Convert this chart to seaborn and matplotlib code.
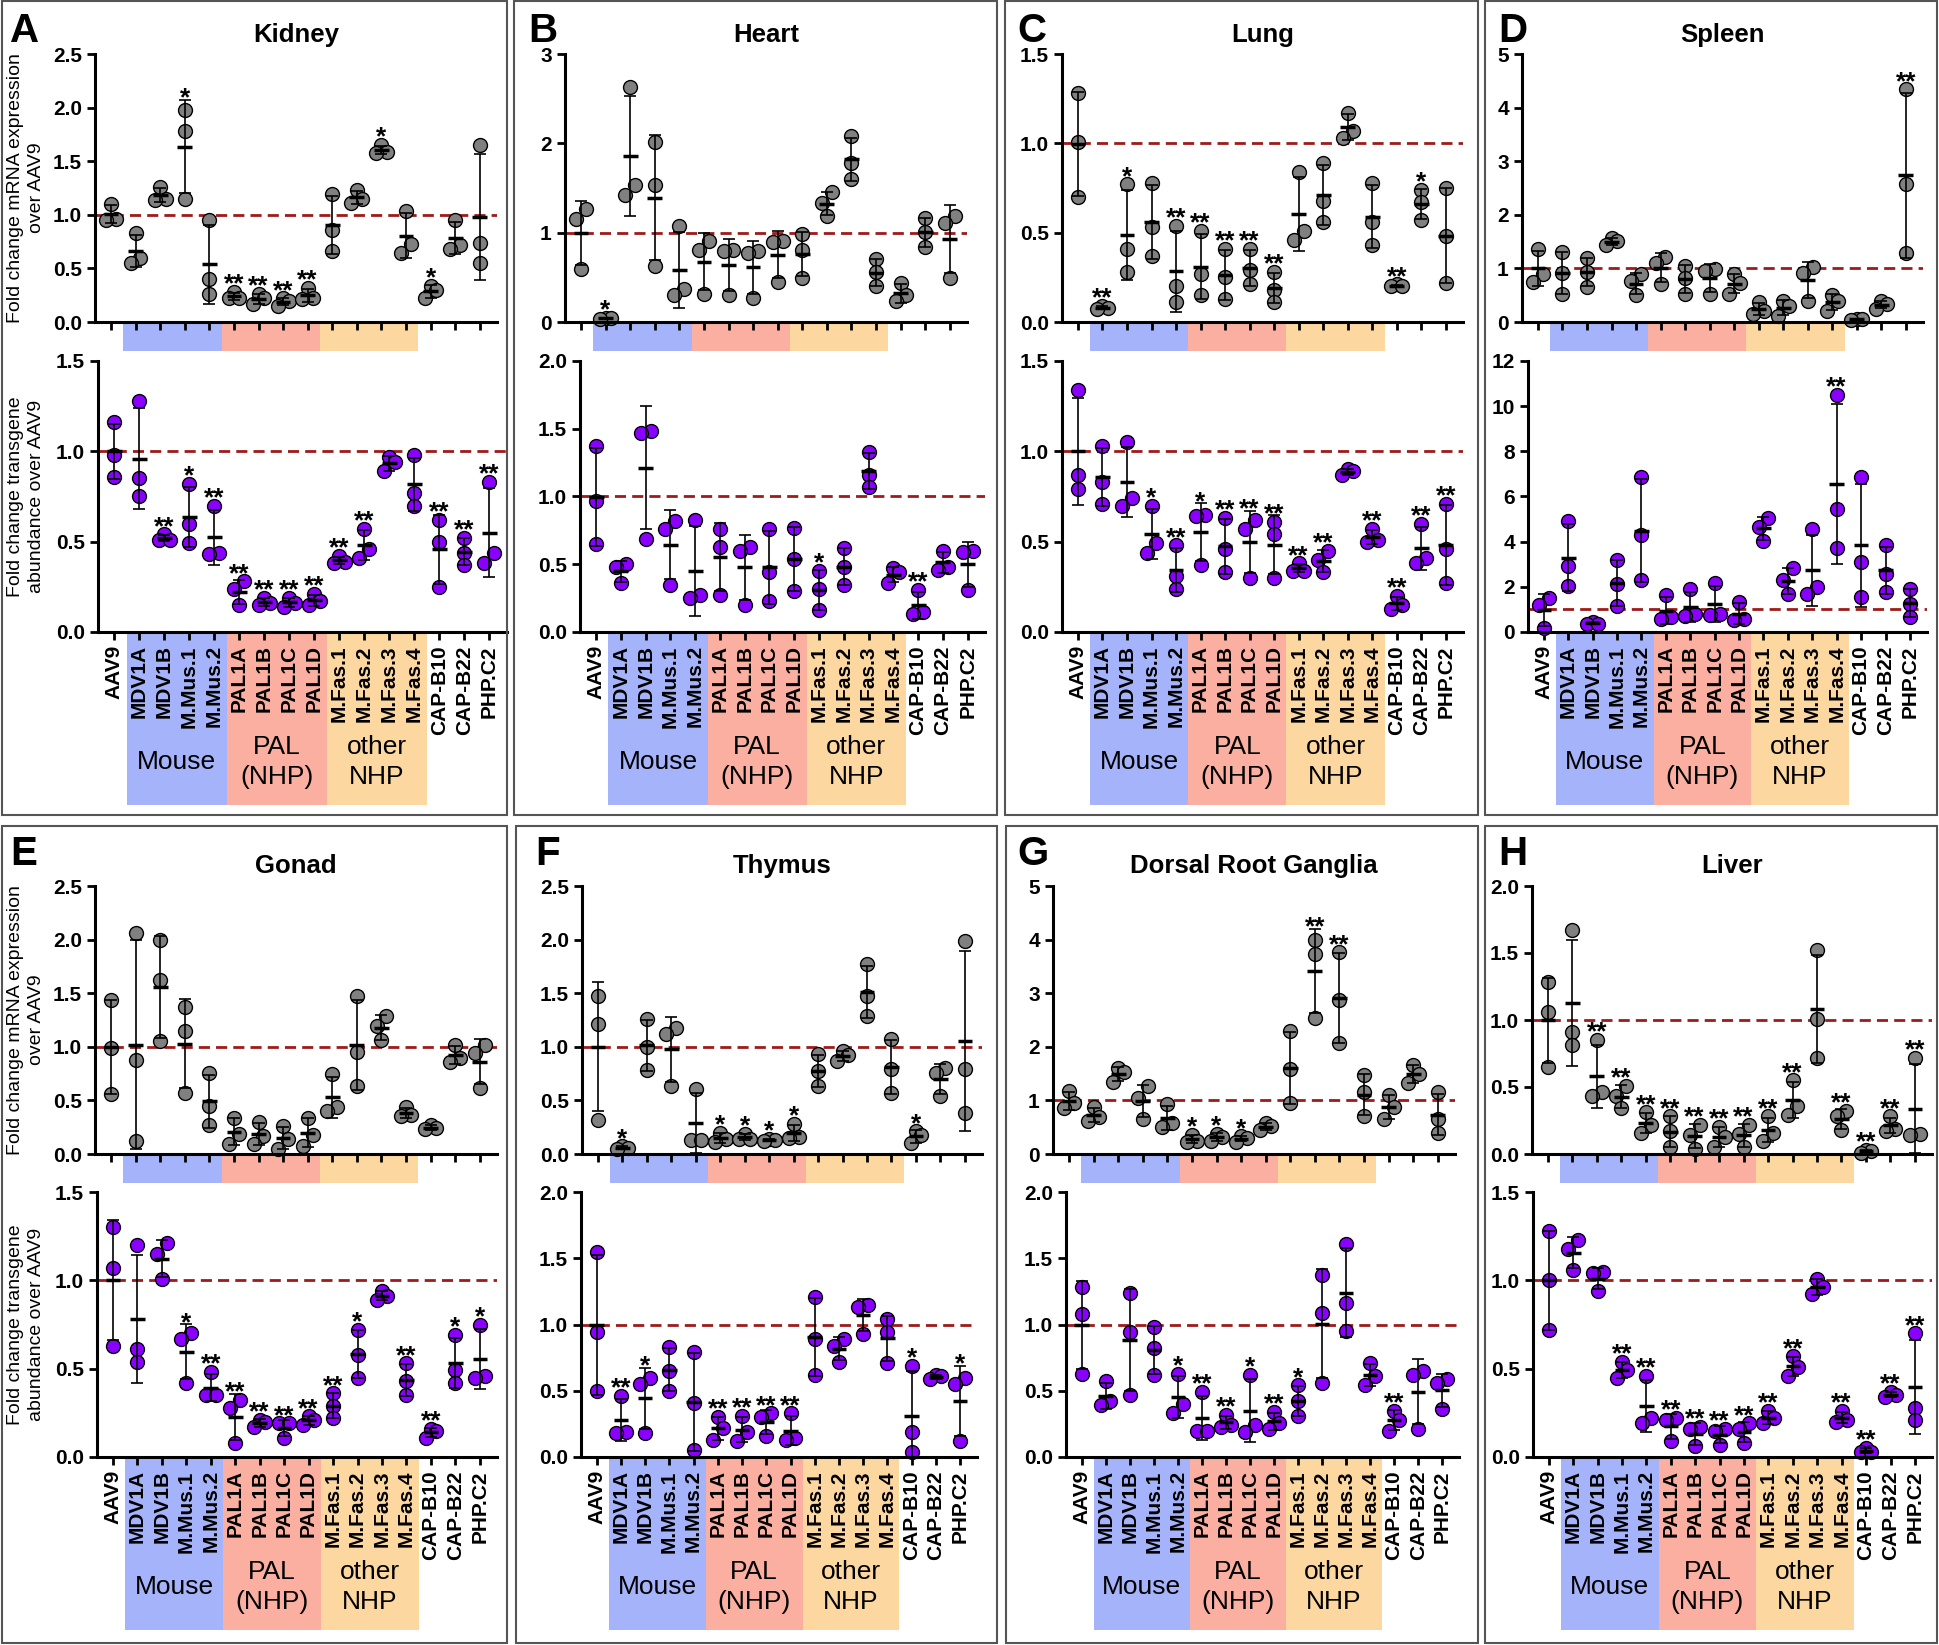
import numpy as np
import matplotlib.pyplot as plt
import matplotlib.transforms as mtransforms
from matplotlib.patches import Rectangle
import seaborn as sns

sns.set_style('ticks')
plt.rcParams['font.family'] = ['Liberation Sans', 'DejaVu Sans']
plt.rcParams['text.color'] = 'black'
plt.rcParams['xtick.color'] = 'black'
plt.rcParams['ytick.color'] = 'black'
plt.rcParams['axes.edgecolor'] = 'black'

# Vector names and groupings
vectors = ['AAV9', 'MDV1A', 'MDV1B', 'M.Mus.1', 'M.Mus.2', 'PAL1A', 'PAL1B', 'PAL1C', 'PAL1D',
           'M.Fas.1', 'M.Fas.2', 'M.Fas.3', 'M.Fas.4', 'CAP-B10', 'CAP-B22', 'PHP.C2']
group_names = ['Mouse', 'PAL\n(NHP)', 'other\nNHP']
group_spans = [(1, 4), (5, 8), (9, 12)]
group_colors = ['#a5b4fa', '#faafa0', '#fdd7a0']

# Fold change values (3 animals per vector)
kidney_mrna = [[1.10, 0.96, 0.95], [0.83, 0.60, 0.55], [1.26, 1.15, 1.14], [1.98, 1.78, 1.15],
               [0.95, 0.40, 0.26], [0.28, 0.22, 0.22], [0.26, 0.22, 0.17], [0.22, 0.20, 0.15],
               [0.32, 0.22, 0.21], [1.19, 0.86, 0.66], [1.23, 1.15, 1.11], [1.65, 1.59, 1.58],
               [1.04, 0.73, 0.64], [0.34, 0.30, 0.22], [0.95, 0.72, 0.68], [1.65, 0.74, 0.55]]
kidney_mrna_sig = ['', '', '', '*', '', '**', '**', '**', '**', '', '', '*', '', '*', '', '']
kidney_dna = [[1.16, 0.98, 0.86], [1.28, 0.85, 0.75], [0.54, 0.51, 0.51], [0.82, 0.60, 0.49],
              [0.70, 0.44, 0.43], [0.28, 0.24, 0.15], [0.19, 0.16, 0.15], [0.19, 0.16, 0.14],
              [0.21, 0.17, 0.15], [0.42, 0.39, 0.38], [0.57, 0.46, 0.41], [0.97, 0.94, 0.89],
              [0.98, 0.77, 0.70], [0.62, 0.50, 0.25], [0.52, 0.44, 0.37], [0.83, 0.44, 0.38]]
kidney_dna_sig = ['', '', '**', '*', '**', '**', '**', '**', '**', '**', '**', '', '', '**', '**', '**']

heart_mrna = [[1.26, 1.15, 0.59], [0.05, 0.04, 0.03], [2.63, 1.53, 1.42], [2.01, 1.53, 0.63],
              [1.07, 0.37, 0.30], [0.91, 0.81, 0.31], [0.81, 0.80, 0.30], [0.80, 0.77, 0.27],
              [0.91, 0.90, 0.45], [0.98, 0.81, 0.49], [1.45, 1.33, 1.19], [2.08, 1.78, 1.60],
              [0.70, 0.56, 0.40], [0.44, 0.30, 0.23], [1.16, 1.01, 0.84], [1.19, 1.11, 0.49]]
heart_mrna_sig = ['', '*', '', '', '', '', '', '', '', '', '', '', '', '', '', '']
heart_dna = [[1.37, 0.97, 0.65], [0.50, 0.48, 0.36], [1.48, 1.47, 0.69], [0.82, 0.76, 0.35],
             [0.83, 0.27, 0.25], [0.76, 0.63, 0.27], [0.63, 0.60, 0.20], [0.76, 0.44, 0.23],
             [0.77, 0.54, 0.30], [0.45, 0.32, 0.16], [0.62, 0.48, 0.35], [1.33, 1.16, 1.07],
             [0.47, 0.44, 0.36], [0.31, 0.15, 0.13], [0.60, 0.48, 0.46], [0.60, 0.59, 0.31]]
heart_dna_sig = ['', '', '', '', '', '', '', '', '', '*', '', '', '', '**', '', '']

lung_mrna = [[1.28, 1.01, 0.70], [0.09, 0.08, 0.07], [0.77, 0.41, 0.28], [0.78, 0.53, 0.37],
             [0.54, 0.20, 0.11], [0.51, 0.27, 0.15], [0.41, 0.25, 0.13], [0.41, 0.29, 0.21],
             [0.28, 0.18, 0.11], [0.84, 0.51, 0.46], [0.89, 0.68, 0.56], [1.17, 1.07, 1.03],
             [0.78, 0.56, 0.43], [0.21, 0.20, 0.20], [0.74, 0.67, 0.57], [0.75, 0.48, 0.22]]
lung_mrna_sig = ['', '**', '*', '', '**', '**', '**', '**', '**', '', '', '', '', '**', '*', '']
lung_dna = [[1.34, 0.87, 0.79], [1.03, 0.83, 0.71], [1.05, 0.74, 0.70], [0.70, 0.49, 0.44],
            [0.48, 0.31, 0.24], [0.65, 0.64, 0.37], [0.63, 0.46, 0.33], [0.62, 0.57, 0.30],
            [0.61, 0.54, 0.30], [0.38, 0.34, 0.34], [0.45, 0.40, 0.33], [0.90, 0.89, 0.87],
            [0.57, 0.51, 0.50], [0.20, 0.15, 0.13], [0.60, 0.41, 0.38], [0.71, 0.46, 0.27]]
lung_dna_sig = ['', '', '', '*', '**', '*', '**', '**', '**', '**', '**', '', '**', '**', '**', '**']

spleen_mrna = [[1.37, 0.89, 0.75], [1.30, 0.92, 0.53], [1.19, 0.94, 0.66], [1.56, 1.51, 1.43],
               [0.89, 0.76, 0.50], [1.22, 1.11, 0.71], [1.05, 0.82, 0.53], [0.98, 0.96, 0.52],
               [0.89, 0.73, 0.53], [0.37, 0.20, 0.15], [0.39, 0.29, 0.11], [1.02, 0.92, 0.40],
               [0.50, 0.40, 0.21], [0.06, 0.05, 0.04], [0.39, 0.33, 0.25], [4.34, 2.58, 1.28]]
spleen_mrna_sig = ['', '', '', '', '', '', '', '', '', '', '', '', '', '', '', '**']
spleen_dna = [[1.52, 1.20, 0.19], [4.91, 2.93, 2.04], [0.46, 0.37, 0.37], [3.19, 2.13, 1.15],
              [6.85, 4.30, 2.31], [1.63, 0.65, 0.56], [1.89, 0.78, 0.70], [2.17, 0.80, 0.74],
              [1.35, 0.56, 0.52], [5.04, 4.67, 4.04], [2.83, 2.31, 1.67], [4.54, 2.00, 1.67],
              [10.5, 5.43, 3.70], [6.85, 3.11, 1.54], [3.85, 2.59, 1.76], [1.91, 1.26, 0.65]]
spleen_dna_sig = ['', '', '', '', '', '', '', '', '', '', '', '', '**', '', '', '']

gonad_mrna = [[1.44, 0.99, 0.56], [2.06, 0.88, 0.12], [2.00, 1.62, 1.05], [1.37, 1.15, 0.57],
              [0.76, 0.45, 0.27], [0.34, 0.19, 0.09], [0.30, 0.17, 0.09], [0.26, 0.14, 0.05],
              [0.34, 0.18, 0.07], [0.75, 0.44, 0.40], [1.47, 0.95, 0.63], [1.29, 1.19, 1.06],
              [0.44, 0.36, 0.35], [0.27, 0.24, 0.23], [1.02, 0.90, 0.86], [1.02, 0.94, 0.62]]
gonad_mrna_sig = [''] * 16
gonad_dna = [[1.30, 1.07, 0.63], [1.20, 0.61, 0.54], [1.21, 1.15, 1.01], [0.70, 0.67, 0.42],
             [0.48, 0.35, 0.35], [0.32, 0.28, 0.08], [0.21, 0.20, 0.17], [0.19, 0.19, 0.11],
             [0.23, 0.21, 0.18], [0.36, 0.29, 0.22], [0.72, 0.58, 0.45], [0.94, 0.91, 0.89],
             [0.53, 0.43, 0.35], [0.16, 0.15, 0.11], [0.69, 0.49, 0.42], [0.75, 0.46, 0.45]]
gonad_dna_sig = ['', '', '', '*', '**', '**', '**', '**', '**', '**', '*', '', '**', '**', '*', '*']

thymus_mrna = [[1.47, 1.21, 0.32], [0.07, 0.06, 0.05], [1.26, 1.00, 0.78], [1.18, 1.12, 0.63],
               [0.61, 0.13, 0.13], [0.20, 0.14, 0.11], [0.19, 0.14, 0.14], [0.14, 0.13, 0.12],
               [0.28, 0.16, 0.15], [0.93, 0.77, 0.63], [0.96, 0.92, 0.87], [1.77, 1.47, 1.29],
               [1.07, 0.79, 0.57], [0.21, 0.18, 0.10], [0.80, 0.76, 0.54], [1.99, 0.79, 0.38]]
thymus_mrna_sig = ['', '*', '', '', '', '*', '*', '*', '*', '', '', '', '', '*', '', '']
thymus_dna = [[1.55, 0.94, 0.50], [0.46, 0.19, 0.18], [0.60, 0.55, 0.18], [0.83, 0.65, 0.50],
              [0.79, 0.41, 0.05], [0.30, 0.22, 0.13], [0.31, 0.19, 0.12], [0.33, 0.30, 0.16],
              [0.33, 0.14, 0.13], [1.21, 0.89, 0.62], [0.89, 0.84, 0.72], [1.15, 1.13, 0.93],
              [1.04, 0.94, 0.71], [0.69, 0.19, 0.04], [0.62, 0.61, 0.59], [0.60, 0.55, 0.12]]
thymus_dna_sig = ['', '**', '*', '', '', '**', '**', '**', '**', '', '', '', '', '*', '', '*']

drg_mrna = [[1.18, 0.95, 0.85], [0.88, 0.69, 0.61], [1.60, 1.53, 1.34], [1.26, 1.05, 0.66],
            [0.93, 0.57, 0.51], [0.36, 0.25, 0.22], [0.38, 0.32, 0.24], [0.33, 0.30, 0.23],
            [0.57, 0.52, 0.44], [2.29, 1.59, 0.95], [3.99, 3.74, 2.53], [3.76, 2.88, 2.08],
            [1.47, 1.15, 0.70], [1.11, 0.88, 0.66], [1.66, 1.49, 1.32], [1.15, 0.65, 0.40]]
drg_mrna_sig = ['', '', '', '', '', '*', '*', '*', '', '', '**', '**', '', '', '', '']
drg_dna = [[1.28, 1.08, 0.63], [0.57, 0.42, 0.39], [1.24, 0.94, 0.47], [0.98, 0.82, 0.62],
           [0.63, 0.40, 0.33], [0.49, 0.20, 0.20], [0.32, 0.24, 0.23], [0.62, 0.24, 0.19],
           [0.34, 0.26, 0.21], [0.54, 0.42, 0.31], [1.37, 1.09, 0.56], [1.61, 1.16, 0.95],
           [0.71, 0.61, 0.54], [0.35, 0.28, 0.20], [0.65, 0.62, 0.21], [0.59, 0.56, 0.36]]
drg_dna_sig = ['', '', '', '', '*', '**', '**', '*', '**', '*', '', '', '', '**', '', '']

liver_mrna = [[1.28, 1.06, 0.65], [1.67, 0.91, 0.81], [0.85, 0.46, 0.43], [0.51, 0.43, 0.34],
              [0.31, 0.22, 0.16], [0.28, 0.17, 0.05], [0.22, 0.14, 0.04], [0.20, 0.13, 0.05],
              [0.22, 0.15, 0.05], [0.28, 0.16, 0.10], [0.55, 0.36, 0.29], [1.52, 1.01, 0.72],
              [0.32, 0.28, 0.18], [0.03, 0.02, 0.01], [0.28, 0.19, 0.17], [0.72, 0.15, 0.14]]
liver_mrna_sig = ['', '', '**', '**', '**', '**', '**', '**', '**', '**', '**', '', '**', '**', '**', '**']
liver_dna = [[1.28, 1.00, 0.72], [1.23, 1.18, 1.06], [1.05, 1.04, 0.94], [0.54, 0.49, 0.45],
             [0.46, 0.22, 0.19], [0.22, 0.21, 0.09], [0.17, 0.16, 0.06], [0.16, 0.15, 0.07],
             [0.19, 0.16, 0.08], [0.26, 0.22, 0.19], [0.57, 0.51, 0.46], [1.01, 0.96, 0.92],
             [0.26, 0.21, 0.20], [0.05, 0.03, 0.03], [0.37, 0.35, 0.34], [0.70, 0.28, 0.21]]
liver_dna_sig = ['', '', '', '**', '**', '**', '**', '**', '**', '**', '**', '', '**', '**', '**', '**']

gray = '#808080'
purple = '#8a00ff'
line_red = '#9e1b1b'

W, H = 1939, 1645
fig = plt.figure(figsize=(W / 100, H / 100), dpi=100)


def px_axes(left, right, top, bottom):
    return fig.add_axes([left / W, 1 - bottom / H, (right - left) / W, (bottom - top) / H])


def spread(vals, ppu, thr=12.0):
    # side-by-side placement of overlapping points, Prism style
    vals = np.asarray(vals)
    order = np.argsort(vals)
    offs = np.zeros(len(vals))
    clusters, cur = [], [order[0]]
    for a, b in zip(order[:-1], order[1:]):
        if (vals[b] - vals[a]) * ppu < thr:
            cur.append(b)
        else:
            clusters.append(cur)
            cur = [b]
    clusters.append(cur)
    for c in clusters:
        if len(c) == 2:
            offs[c[0]], offs[c[1]] = -0.2, 0.2
        elif len(c) == 3:
            offs[c[0]], offs[c[1]], offs[c[2]] = -0.22, 0.22, 0.0
    return offs


def draw_panel(ax, data, sig, lim, color, ypx, band_px, labels):
    ymax, step = lim
    h_px = ypx[1] - ypx[0]
    ppu = h_px / ymax
    pos = np.arange(len(data))

    xs, ys = [], []
    for i, vals in enumerate(data):
        xs.extend(i + spread(vals, ppu))
        ys.extend(vals)

    ax.axhline(1.0, color=line_red, lw=2, ls=(0, (4, 2.2)), zorder=0.5)
    sns.scatterplot(x=xs, y=ys, s=100, color=color, edgecolor='black', linewidth=1.0,
                    ax=ax, legend=False, clip_on=False)

    means = np.array([np.mean(v) for v in data])
    sds = np.array([np.std(v, ddof=1) for v in data])
    ax.errorbar(pos, means, yerr=sds, fmt='none', ecolor='black', elinewidth=1.2,
                capsize=4, capthick=1.2, zorder=4)
    ax.hlines(means, pos - 0.3, pos + 0.3, color='black', lw=2.5, zorder=4)

    for i, s in enumerate(sig):
        if s:
            top = max(means[i] + sds[i], max(data[i]) + 6 / ppu)
            ax.annotate(s, (i, top), xytext=(0, -4), textcoords='offset points',
                        ha='center', va='baseline', fontsize=19, fontweight='bold')

    # coloured group bands under the x axis
    blend = mtransforms.blended_transform_factory(ax.transData, ax.transAxes)
    hf = band_px / h_px
    for (s0, s1), c, name in zip(group_spans, group_colors, group_names):
        ax.add_artist(Rectangle((s0 - 0.5, -hf), s1 - s0 + 1, hf, transform=blend,
                                clip_on=False, facecolor=c, edgecolor='none', zorder=0))
        if labels:
            ax.text((s0 + s1) / 2, -130 / h_px, name, transform=blend, ha='center',
                    va='center', fontsize=19, linespacing=1.3)

    ax.set_xlim(-0.65, 15.7)
    ax.set_ylim(0, ymax)
    yt = np.arange(0, ymax + step / 2, step)
    ax.set_yticks(yt)
    ax.set_yticklabels([f'{t:.1f}' if step < 1 else f'{t:.0f}' for t in yt],
                       fontweight='bold', fontsize=15)
    ax.set_xticks(pos)
    if labels:
        ax.set_xticklabels(vectors, rotation=90, fontweight='bold', fontsize=15)
    else:
        ax.set_xticklabels([])
    ax.set_facecolor('none')
    sns.despine(ax=ax)
    for sp in ['left', 'bottom']:
        ax.spines[sp].set_linewidth(2.2)
    ax.tick_params(axis='both', direction='out', length=6, width=2)


rows = [
    dict(box=(1, 815), title=35, letter=12, top=(54, 322), bot=(361, 632)),
    dict(box=(826, 1643), title=866, letter=835, top=(886, 1154), bot=(1192, 1457)),
]

panels = [
    ('A', 'Kidney', kidney_mrna, kidney_mrna_sig, kidney_dna, kidney_dna_sig,
     (2.5, 0.5), (1.5, 0.5), 0, (95, 497), (98, 507), (2, 507), 10),
    ('B', 'Heart', heart_mrna, heart_mrna_sig, heart_dna, heart_dna_sig,
     (3, 1), (2.0, 0.5), 0, (565, 967), (580, 985), (514, 997), 528),
    ('C', 'Lung', lung_mrna, lung_mrna_sig, lung_dna, lung_dna_sig,
     (1.5, 0.5), (1.5, 0.5), 0, (1062, 1463), (1062, 1463), (1005, 1478), 1017),
    ('D', 'Spleen', spleen_mrna, spleen_mrna_sig, spleen_dna, spleen_dna_sig,
     (5, 1), (12, 2), 0, (1522, 1923), (1528, 1927), (1485, 1937), 1498),
    ('E', 'Gonad', gonad_mrna, gonad_mrna_sig, gonad_dna, gonad_dna_sig,
     (2.5, 0.5), (1.5, 0.5), 1, (95, 497), (97, 497), (2, 507), 10),
    ('F', 'Thymus', thymus_mrna, thymus_mrna_sig, thymus_dna, thymus_dna_sig,
     (2.5, 0.5), (2.0, 0.5), 1, (582, 982), (581, 977), (516, 997), 535),
    ('G', 'Dorsal Root Ganglia', drg_mrna, drg_mrna_sig, drg_dna, drg_dna_sig,
     (5, 1), (2.0, 0.5), 1, (1053, 1455), (1066, 1459), (1006, 1478), 1017),
    ('H', 'Liver', liver_mrna, liver_mrna_sig, liver_dna, liver_dna_sig,
     (2.0, 0.5), (1.5, 0.5), 1, (1532, 1932), (1533, 1932), (1485, 1937), 1498),
]

for (letter, title, mrna, mrna_sig, dna, dna_sig, top_lim, bot_lim,
     row, top_x, bot_x, box_x, letter_x) in panels:
    r = rows[row]
    fig.add_artist(Rectangle((box_x[0] / W, 1 - r['box'][1] / H),
                             (box_x[1] - box_x[0]) / W, (r['box'][1] - r['box'][0]) / H,
                             transform=fig.transFigure, fill=False,
                             edgecolor='#555555', linewidth=1.5))
    fig.text(letter_x / W, 1 - r['letter'] / H, letter, fontsize=29,
             fontweight='bold', ha='left', va='top')

    ax_top = px_axes(top_x[0], top_x[1], *r['top'])
    ax_bot = px_axes(bot_x[0], bot_x[1], *r['bot'])
    draw_panel(ax_top, mrna, mrna_sig, top_lim, gray, r['top'], 29, False)
    draw_panel(ax_bot, dna, dna_sig, bot_lim, purple, r['bot'], 173, True)

    fig.text((top_x[0] + top_x[1]) / 2 / W, 1 - r['title'] / H, title,
             ha='center', va='center', fontsize=18.5, fontweight='bold')

    if letter in ('A', 'E'):
        fig.text(26 / W, 1 - (r['top'][0] + r['top'][1]) / 2 / H,
                 'Fold change mRNA expression\nover AAV9', rotation=90,
                 ha='center', va='center', fontsize=14, linespacing=1.3)
        fig.text(26 / W, 1 - (r['bot'][0] + r['bot'][1]) / 2 / H,
                 'Fold change transgene\nabundance over AAV9', rotation=90,
                 ha='center', va='center', fontsize=14, linespacing=1.3)

fig.savefig('out.png', dpi=100)
